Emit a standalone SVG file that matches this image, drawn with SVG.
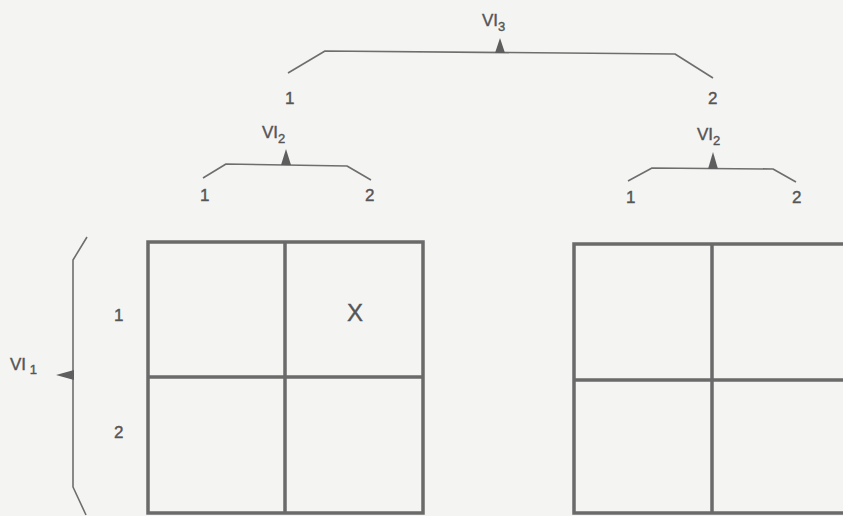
<svg xmlns="http://www.w3.org/2000/svg" width="843" height="516" viewBox="0 0 843 516">
<style>
.br{fill:none;stroke:#6e6e6e;stroke-width:1.6;stroke-linejoin:round}
.ar{fill:#5e5e5e}
.t{font-family:"Liberation Sans",Arial,sans-serif;font-size:17px;fill:#555;stroke:#555;stroke-width:0.4}
.sub{font-size:13px}
.g{fill:none;stroke:#6a6a6a;stroke-width:3.5}
</style>
<rect width="843" height="516" fill="#f4f4f3"/>
<g id="connectors">
<g id="vi3-bracket">
<polyline class="br" points="288,73 325,51 675,54 713,78"/>
<polygon class="ar" points="500,38 495,53 505,53"/>
</g>
<g id="vi2-left-bracket">
<polyline class="br" points="203,178 226,164 347,166 371,180"/>
<polygon class="ar" points="286,149 281,165 291,165"/>
</g>
<g id="vi2-right-bracket">
<polyline class="br" points="628,181 652,168 773,169 796,182"/>
<polygon class="ar" points="713,152 708,169 718,169"/>
</g>
<g id="vi1-bracket">
<polyline class="br" points="87,237 73,260 73,487 86,515"/>
<polygon class="ar" points="56,375 74,370 74,380"/>
</g>
</g>
<g id="labels">
<text class="t" x="482" y="26">VI<tspan class="sub" dy="5">3</tspan></text>
<text class="t" x="285" y="104">1</text>
<text class="t" x="708" y="104">2</text>
<text class="t" x="262" y="138">VI<tspan class="sub" dy="5">2</tspan></text>
<text class="t" x="200" y="201">1</text>
<text class="t" x="365" y="201">2</text>
<text class="t" x="697" y="140">VI<tspan class="sub" dy="5">2</tspan></text>
<text class="t" x="626" y="203">1</text>
<text class="t" x="792" y="203">2</text>
<text class="t" x="10" y="370">VI<tspan class="sub" dy="4"> 1</tspan></text>
<text class="t" x="114" y="321">1</text>
<text class="t" x="114" y="438">2</text>
</g>
<g id="grid-left">
<rect class="g" x="148" y="242" width="275" height="271"/>
<line class="g" x1="285" y1="242" x2="285" y2="513"/>
<line class="g" x1="148" y1="377" x2="423" y2="377"/>
<text class="t" x="355" y="321" text-anchor="middle" style="font-size:24px">X</text>
</g>
<g id="grid-right">
<rect class="g" x="574" y="244" width="275" height="269"/>
<line class="g" x1="712" y1="244" x2="712" y2="513"/>
<line class="g" x1="574" y1="380" x2="849" y2="380"/>
</g>
</svg>
